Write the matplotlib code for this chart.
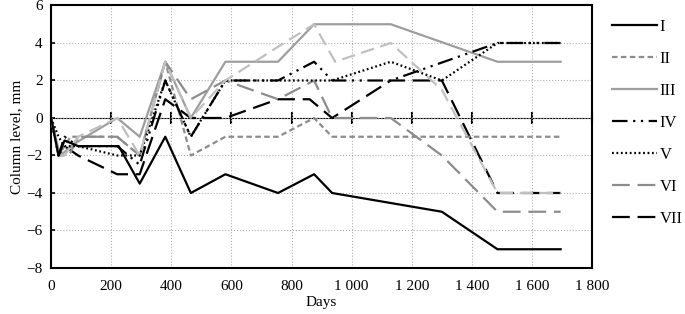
import matplotlib.pyplot as plt
from matplotlib.ticker import FuncFormatter, MultipleLocator

plt.rcParams["font.family"] = ["Liberation Serif", "DejaVu Serif"]

days_I = [0, 25, 45, 90, 225, 295, 380, 465, 580, 755, 875, 935, 1300, 1485, 1695]
vals_I = [0, -2, -1.2, -1.5, -1.5, -3.5, -1, -4, -3, -4, -3, -4, -5, -7, -7]

days_II = [0, 25, 65, 220, 295, 380, 465, 580, 755, 875, 935, 1695]
vals_II = [0, -2, -1, -1, -2, 3, -2, -1, -1, 0, -1, -1]

days_III = [0, 30, 85, 220, 295, 380, 465, 580, 755, 875, 1130, 1485, 1695]
vals_III = [0, -2, -1.3, 0, -1, 3, 0, 3, 3, 5, 5, 3, 3]

days_IV = [0, 25, 45, 90, 220, 295, 380, 465, 580, 755, 875, 935, 1130, 1485, 1695]
vals_IV = [0, -2, -1, -1.5, -1.5, -2.5, 2, -1, 2, 2, 3, 2, 2, 4, 4]

days_V = [0, 25, 45, 90, 220, 295, 380, 465, 580, 755, 875, 935, 1130, 1300, 1485, 1695]
vals_V = [0, -1, -1.5, -1.5, -2, -2, 2, -1, 2, 2, 2, 2, 3, 2, 4, 4]

days_VI = [0, 25, 60, 90, 220, 295, 380, 465, 580, 755, 875, 935, 1130, 1300, 1485, 1695]
vals_VI = [0, -2, -2, -1, -1, -2, 3, 1, 2, 1, 2, 0, 0, -2, -5, -5]

days_VII = [0, 25, 45, 90, 220, 295, 380, 465, 580, 755, 860, 935, 1130, 1300, 1485, 1695]
vals_VII = [0, -2, -1.5, -2, -3, -3, 1, 0, 0, 1, 1, 0, 2, 2, -4, -4]

# extra light-grey curve that has no legend entry
days_x = [0, 25, 45, 90, 220, 295, 380, 465, 580, 755, 875, 945, 1130, 1300, 1485, 1695]
vals_x = [0, -2, -2, -1, 0, -2, 3, 0, 2, 3.8, 5, 3, 4, 1.5, -4, -4]

x_ticks = list(range(0, 1801, 200))

fig = plt.figure(figsize=(6.85, 3.14), dpi=100)
ax = fig.add_axes([0.0745, 0.1465, 0.790, 0.836])

lw = 1.6
ax.plot(days_VII, vals_VII, color="black", lw=lw, dashes=(8, 3.5), label="VII", zorder=3)
ax.plot(days_x, vals_x, color="#c0c0c0", lw=lw, dashes=(6, 3), label="_nolegend_", zorder=4)
ax.plot(days_III, vals_III, color="#9e9e9e", lw=lw, label="III", zorder=3)
ax.plot(days_II, vals_II, color="#8c8c8c", lw=lw, dashes=(2.5, 1.5), label="II", zorder=3)
ax.plot(days_VI, vals_VI, color="#8c8c8c", lw=lw, dashes=(8, 3.5), label="VI", zorder=3)
ax.plot(days_V, vals_V, color="black", lw=lw, dashes=(0.8, 1.2), label="V", zorder=3)
ax.plot(days_IV, vals_IV, color="black", lw=lw, dashes=(7, 2.5, 1, 2.5, 1, 2.5), label="IV", zorder=3)
ax.plot(days_I, vals_I, color="black", lw=lw, label="I", zorder=5)

ax.set_xlim(0, 1800)
ax.set_ylim(-8, 6)
ax.xaxis.set_major_locator(MultipleLocator(200))
ax.yaxis.set_major_locator(MultipleLocator(2))
ax.xaxis.set_major_formatter(FuncFormatter(lambda v, p: f"{int(v):,}".replace(",", " ")))
ax.grid(True, color="#b0b0b0", linestyle=":", lw=0.8)
ax.set_axisbelow(True)

for s in ax.spines.values():
    s.set_linewidth(1.5)
    s.set_color("black")

ax.tick_params(axis="x", length=0, labelsize=11, pad=9)
ax.tick_params(axis="y", direction="in", length=3, width=1.2, labelsize=11, pad=6)

# horizontal axis line at zero with crossing ticks
sec = ax.secondary_xaxis(8 / 14)
sec.set_xticks(x_ticks)
sec.set_xticklabels([])
sec.tick_params(direction="inout", length=8, width=1.5)
sec.spines["bottom"].set_linewidth(1.5)

ax.set_xlabel("Days", fontsize=11, labelpad=-2)
ax.xaxis.set_label_coords(0.5, -0.105)
ax.set_ylabel("Column level, mm", fontsize=11, labelpad=2)

handles, labels = ax.get_legend_handles_labels()
order = ["I", "II", "III", "IV", "V", "VI", "VII"]
hmap = dict(zip(labels, handles))
fig.legend([hmap[k] for k in order], order, loc="upper left",
           bbox_to_anchor=(0.872, 0.987), frameon=False, fontsize=12,
           handlelength=2.7, handletextpad=0.15, labelspacing=0.96)

fig.savefig("out.png", dpi=100)
